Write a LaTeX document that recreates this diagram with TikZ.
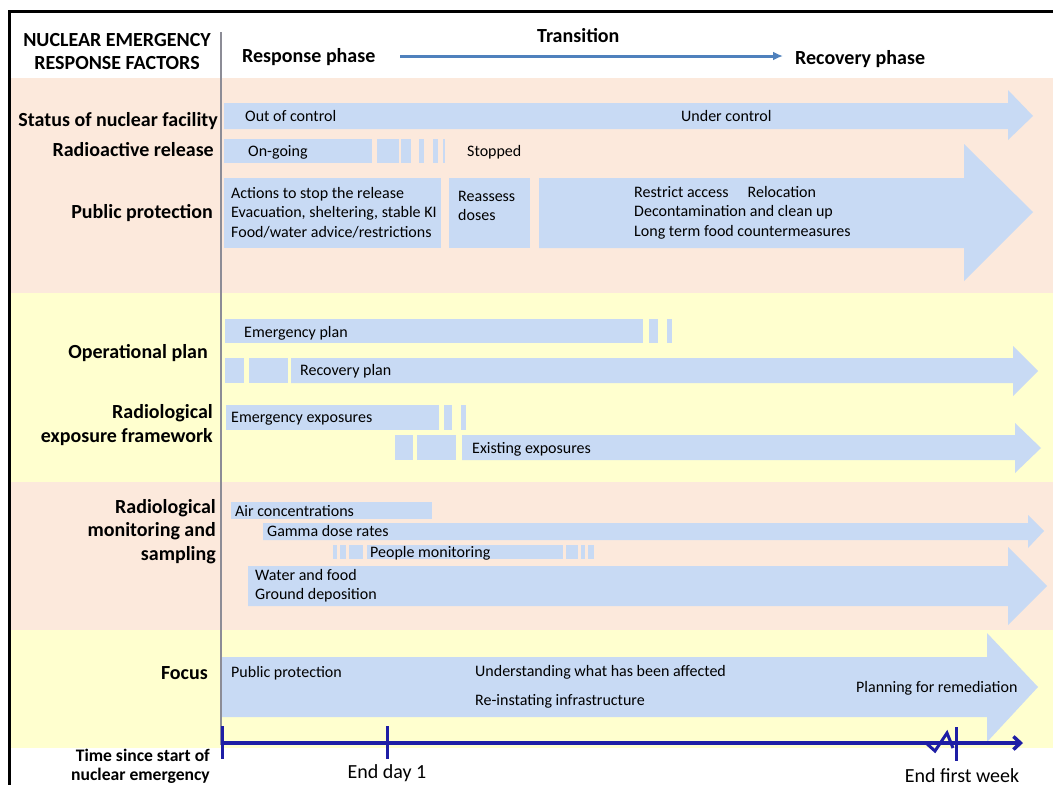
\documentclass[tikz,border=0pt]{standalone}
\usepackage{fontspec}
\setmainfont{Carlito}
\usetikzlibrary{arrows.meta}
\definecolor{peach}{RGB}{252,233,220}
\definecolor{paleyellow}{RGB}{255,255,207}
\definecolor{barblue}{RGB}{200,218,244}
\definecolor{hdrblue}{RGB}{79,129,189}
\definecolor{tlblue}{RGB}{30,30,165}
\definecolor{divgray}{RGB}{140,140,150}
\newcommand\bararrow[8]{\fill[barfill] (#1,#2) -- (#4,#2) -- (#4,#5) -- (#7,#8) -- (#4,#6) -- (#4,#3) -- (#1,#3) -- cycle;}
\newcommand\barpiece[4]{\fill[barfill] (#1,#2) rectangle (#3,#4);}
\begin{document}
\begin{tikzpicture}[x=1pt,y=-1pt,
  barfill/.style={fill=barblue},
  rowlabel/.style={font=\bfseries\fontsize{20}{24}\selectfont, align=right, inner sep=0},
  hdrtext/.style={font=\bfseries\fontsize{20}{23}\selectfont, inner sep=0},
  bartext/.style={font=\fontsize{16}{19.5}\selectfont, anchor=base west, inner sep=0},
  multitext/.style={font=\fontsize{16}{19.5}\selectfont, align=left, anchor=west, inner sep=0},
  focustext/.style={font=\fontsize{16}{18}\selectfont, anchor=base west, inner sep=0},
  timetext/.style={font=\fontsize{20}{22}\selectfont, anchor=base, inner sep=0},
  tick/.style={draw=tlblue, line width=3pt}]
\useasboundingbox (0,0) rectangle (1053,785);
\fill[white] (0,0) rectangle (1053,785);
% bands
\fill[peach] (9,78) rectangle (1053,293);
\fill[paleyellow] (9,293) rectangle (1053,482);
\fill[peach] (9,482) rectangle (1053,630);
\fill[paleyellow] (9,630) rectangle (1053,748);
% frame
\draw[black, line width=3pt] (1053,11) -- (9,11) -- (9,785);
% divider
\draw[divgray, line width=1.5pt] (221,32) -- (221,745);

% header
\node[hdrtext, align=center] (factors) at (117,51.5) {NUCLEAR EMERGENCY\\RESPONSE FACTORS};
\node[hdrtext, anchor=base west] (response) at (242,62.6) {Response phase};
\node[hdrtext, anchor=base west] (transition) at (537,42.6) {Transition};
\node[hdrtext, anchor=base west] (recovery) at (795,64.6) {Recovery phase};
\coordinate (hdrstart) at (400,56);
\coordinate (hdrend) at (783,56);
\draw[hdrblue, line width=3pt, -{Latex[length=10pt,width=9pt]}] (hdrstart) -- (hdrend);

% row labels
\node[rowlabel, anchor=base east] (lstatus) at (218,126.6) {Status of nuclear facility};
\node[rowlabel, anchor=base east] (lrelease) at (214,156.6) {Radioactive release};
\node[rowlabel, anchor=base east] (lpublic) at (213,218.6) {Public protection};
\node[rowlabel, anchor=base east] (lopplan) at (208,358.6) {Operational plan};
\node[rowlabel, anchor=east] (lexpo) at (213,425) {Radiological\\exposure framework};
\node[rowlabel, anchor=east, font=\bfseries\fontsize{20}{23.5}\selectfont] (lmonit) at (216,531.5) {Radiological\\monitoring and\\sampling};
\node[rowlabel, anchor=base east] (lfocus) at (208,679.6) {Focus};

% row 1: status
\bararrow{224}{103}{129}{1008}{90}{140}{1033}{116}
\node[bartext] (outctl) at (245,121.3) {Out of control};
\node[bartext] (underctl) at (681,121.3) {Under control};

% row 2: release
\barpiece{224}{139}{372}{163}
\barpiece{377}{139}{399}{163}
\barpiece{401}{139}{411}{163}
\barpiece{419}{139}{424}{163}
\barpiece{433}{139}{438}{163}
\barpiece{443}{139}{445}{163}
\node[bartext] (ongoing) at (248,156.3) {On-going};
\node[bartext] (stopped) at (467,156.3) {Stopped};

% row 3: public protection
\barpiece{224}{178}{441}{248}
\barpiece{449}{178}{530}{248}
\bararrow{539}{178}{248}{964}{144}{281}{1033}{212}
\node[multitext] (actions) at (231,212.5) {Actions to stop the release\\Evacuation, sheltering, stable KI\\Food/water advice/restrictions};
\node[multitext] (reassess) at (458,206) {Reassess\\doses};
\node[multitext] (restrict) at (634,212.5) {Restrict access\hspace{19pt}Relocation\\Decontamination and clean up\\Long term food countermeasures};

% row 4: operational plan
\barpiece{225}{319}{643}{343}
\barpiece{649}{319}{658}{343}
\barpiece{667}{319}{672}{343}
\node[bartext] (emplan) at (244,337.3) {Emergency plan};
\barpiece{225}{358}{244}{383}
\barpiece{249}{358}{288}{383}
\bararrow{291}{358}{383}{1013}{346}{396}{1038}{371}
\node[bartext] (recplan) at (300,375.3) {Recovery plan};

% row 5: exposure framework
\barpiece{226}{405}{439}{430}
\barpiece{444}{405}{452}{430}
\barpiece{461}{405}{466}{430}
\node[bartext] (emexp) at (231,422.3) {Emergency exposures};
\barpiece{395}{435}{413}{460}
\barpiece{417}{435}{456}{460}
\bararrow{462}{435}{460}{1015}{423}{473}{1041}{448}
\node[bartext] (exexp) at (472,453.3) {Existing exposures};

% row 6: monitoring
\barpiece{231}{502}{432}{519}
\node[bartext] (air) at (235,516.3) {Air concentrations};
\bararrow{263}{523}{540}{1028}{515}{548}{1044}{531}
\node[bartext] (gamma) at (267,536.3) {Gamma dose rates};
\barpiece{333}{545}{337}{559}
\barpiece{340}{545}{346}{559}
\barpiece{349}{545}{363}{559}
\barpiece{367}{545}{563}{559}
\barpiece{566}{545}{578}{559}
\barpiece{581}{545}{585}{559}
\barpiece{588}{545}{594}{559}
\node[bartext] (people) at (370,557.3) {People monitoring};
\bararrow{248}{566}{606}{1008}{547}{625}{1047}{586}
\node[multitext, font=\fontsize{16}{19}\selectfont] (water) at (255,585.5) {Water and food\\Ground deposition};

% row 7: focus
\bararrow{222}{657}{717}{987}{633}{742}{1038}{687}
\node[focustext] (fpublic) at (231,677) {Public protection};
\node[focustext] (funder) at (475,676) {Understanding what has been affected};
\node[focustext] (freinst) at (475,705) {Re-instating infrastructure};
\node[focustext] (fplan) at (856,692) {Planning for remediation};

% timeline
\coordinate (tlstart) at (222,743);
\coordinate (tlend) at (1023,743);
\draw[tlblue, line width=3.5pt, -{Straight Barb[length=7pt,width=13pt]}] (tlstart) -- (tlend);
\coordinate (t0a) at (222,726); \coordinate (t0b) at (222,759);
\coordinate (t1a) at (387,726); \coordinate (t1b) at (387,759);
\coordinate (t2a) at (956,727); \coordinate (t2b) at (956,761);
\draw[tick] (t0a) -- (t0b);
\draw[tick] (t1a) -- (t1b);
\draw[tick] (t2a) -- (t2b);
\draw[tlblue, line width=3pt, line join=miter] (926,743) -- (935,751) -- (947,733) -- (953,748);
\node[font=\bfseries\fontsize{17.6}{19}\selectfont, align=right, anchor=east, inner sep=0] (timelbl) at (210,766.5) {Time since start of\\nuclear emergency};
\node[timetext] (endday) at (387,778) {End day 1};
\node[timetext] (endweek) at (962,782) {End first week};
\end{tikzpicture}
\end{document}
